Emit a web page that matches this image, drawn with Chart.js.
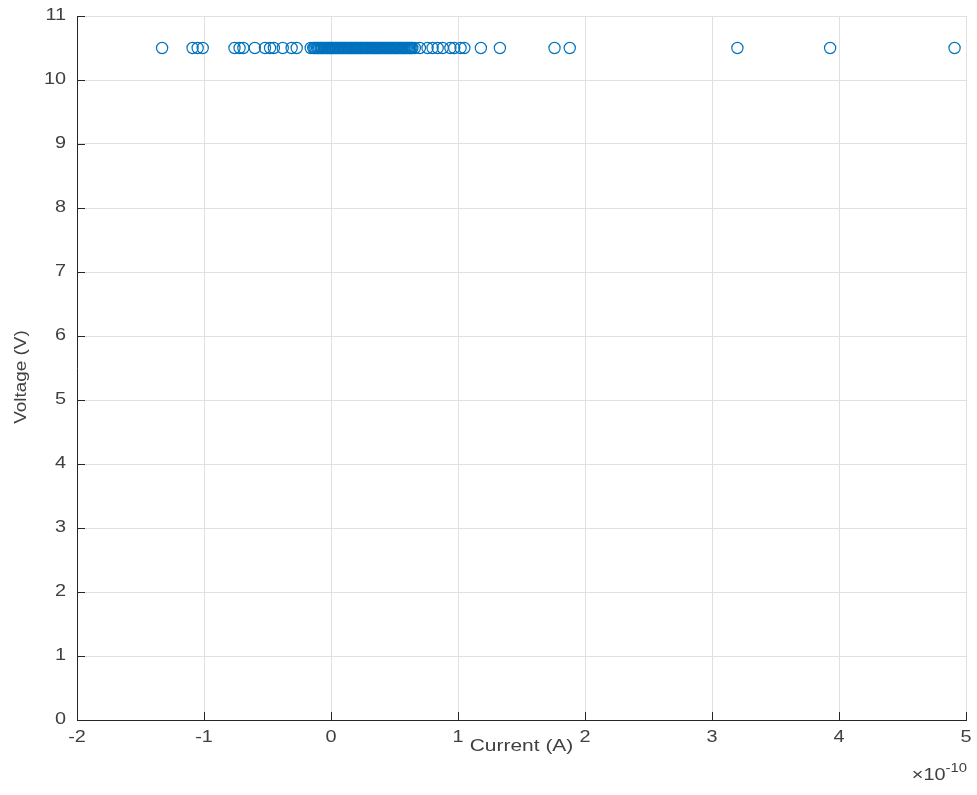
<!DOCTYPE html>
<html>
<head>
<meta charset="utf-8">
<script src="https://cdn.jsdelivr.net/npm/chart.js@4"></script>
<style>
  html, body { margin: 0; padding: 0; background: #fff; }
  #wrap { width: 977px; height: 795px; }
</style>
</head>
<body>
<div id="wrap"><canvas id="ivChart" width="977" height="795"></canvas></div>
<script>
// Current readings, in units of 1e-10 A
const currentValues = [
    -1.33, -1.09, -1.05, -1.01,
    -0.76, -0.72, -0.69, -0.60, -0.52, -0.48, -0.45, -0.38, -0.31, -0.27, -0.16,
    // dense cluster around zero
    -0.140, -0.131, -0.122, -0.110, -0.101, -0.093, -0.082, -0.074, -0.066, -0.055,
    -0.047, -0.036, -0.028, -0.019, -0.010, -0.002, 0.007, 0.016, 0.024, 0.035,
    0.043, 0.052, 0.061, 0.070, 0.078, 0.089, 0.097, 0.106, 0.115, 0.123,
    0.134, 0.142, 0.151, 0.160, 0.168, 0.179, 0.187, 0.196, 0.205, 0.213,
    0.224, 0.232, 0.241, 0.250, 0.259, 0.268, 0.277, 0.286, 0.294, 0.303,
    0.313, 0.321, 0.330, 0.339, 0.348, 0.357, 0.366, 0.374, 0.384, 0.392,
    0.401, 0.410, 0.419, 0.428, 0.436, 0.446, 0.455, 0.463, 0.472, 0.481,
    0.490, 0.499, 0.508, 0.517, 0.525, 0.535, 0.544, 0.552, 0.561, 0.570,
    0.579, 0.588, 0.597, 0.606, 0.615, 0.624, 0.633, 0.641,
    0.66, 0.70, 0.76, 0.80, 0.84, 0.88, 0.94, 0.97, 1.02, 1.05,
    1.18, 1.33, 1.76, 1.88, 3.20, 3.93, 4.91
];
const voltageLevel = 10.5;
const xTicks = [-2, -1, 0, 1, 2, 3, 4, 5];
const yTicks = [0, 1, 2, 3, 4, 5, 6, 7, 8, 9, 10, 11];
const xTitle = 'Current (A)';
const yTitle = 'Voltage (V)';

const textColor = '#404040';
const axisColor = '#262626';
const fontFamily = '"Liberation Sans", Arial, Helvetica, sans-serif';
const stretch = 1.24; // the reference text is wider than plain Arial

function wideText(ctx, text, x, y, align, sx) {
    ctx.save();
    ctx.translate(x, y);
    ctx.scale(sx, 1);
    ctx.textAlign = align;
    ctx.fillText(text, 0, 0);
    ctx.restore();
}

// MATLAB style inward ticks, labels and exponent
const matlabAxes = {
    id: 'matlabAxes',
    afterDraw(chart) {
        const ctx = chart.ctx;
        const xs = chart.scales.x;
        const ys = chart.scales.y;
        const area = chart.chartArea;
        const len = 8;
        ctx.save();
        ctx.strokeStyle = axisColor;
        ctx.lineWidth = 1;
        ctx.beginPath();
        xTicks.forEach(v => {
            const px = Math.round(xs.getPixelForValue(v)) + 0.5;
            ctx.moveTo(px, area.bottom);
            ctx.lineTo(px, area.bottom - len);
        });
        yTicks.forEach(v => {
            const py = Math.round(ys.getPixelForValue(v)) + 0.5;
            ctx.moveTo(area.left, py);
            ctx.lineTo(area.left + len, py);
        });
        ctx.stroke();

        ctx.fillStyle = textColor;
        ctx.textBaseline = 'middle';
        ctx.font = '16px ' + fontFamily;
        xTicks.forEach(v => {
            wideText(ctx, String(v), xs.getPixelForValue(v), area.bottom + 18, 'center', stretch);
        });
        yTicks.forEach(v => {
            wideText(ctx, String(v), area.left - 11, ys.getPixelForValue(v), 'right', stretch);
        });

        wideText(ctx, xTitle, (area.left + area.right) / 2, area.bottom + 27, 'center', 1.31);

        ctx.save();
        ctx.translate(22, (area.top + area.bottom) / 2 + 9);
        ctx.rotate(-Math.PI / 2);
        ctx.scale(1.18, 1);
        ctx.textAlign = 'center';
        ctx.fillText(yTitle, 0, 0);
        ctx.restore();

        ctx.font = '12px ' + fontFamily;
        const sup = '-10';
        const supW = ctx.measureText(sup).width * stretch;
        wideText(ctx, sup, area.right + 1, area.bottom + 49, 'right', stretch);
        ctx.font = '16px ' + fontFamily;
        wideText(ctx, '\u00d710', area.right + 1 - supW, area.bottom + 56, 'right', stretch);
        ctx.restore();
    }
};

new Chart(document.getElementById('ivChart'), {
    type: 'scatter',
    data: {
        datasets: [{
            label: 'I-V',
            data: currentValues.map(c => ({ x: c, y: voltageLevel })),
            pointStyle: 'circle',
            pointRadius: 5.6,
            pointBorderWidth: 1.2,
            pointBorderColor: '#0072BD',
            pointBackgroundColor: 'rgba(0,0,0,0)',
            showLine: false
        }]
    },
    options: {
        responsive: false,
        animation: false,
        layout: { padding: { top: 16, right: 11, left: 0, bottom: 0 } },
        plugins: {
            legend: { display: false },
            tooltip: { enabled: false }
        },
        scales: {
            x: {
                type: 'linear',
                min: -2,
                max: 5,
                afterFit: s => { s.height = 75; },
                afterBuildTicks: s => { s.ticks = xTicks.map(v => ({ value: v })); },
                grid: { color: '#e0e0e0', drawTicks: false },
                border: { color: axisColor, width: 1 },
                ticks: { display: false }
            },
            y: {
                type: 'linear',
                min: 0,
                max: 11,
                afterFit: s => { s.width = 77; },
                afterBuildTicks: s => { s.ticks = yTicks.map(v => ({ value: v })); },
                grid: { color: '#e0e0e0', drawTicks: false },
                border: { color: axisColor, width: 1 },
                ticks: { display: false }
            }
        }
    },
    plugins: [matlabAxes]
});
</script>
</body>
</html>
